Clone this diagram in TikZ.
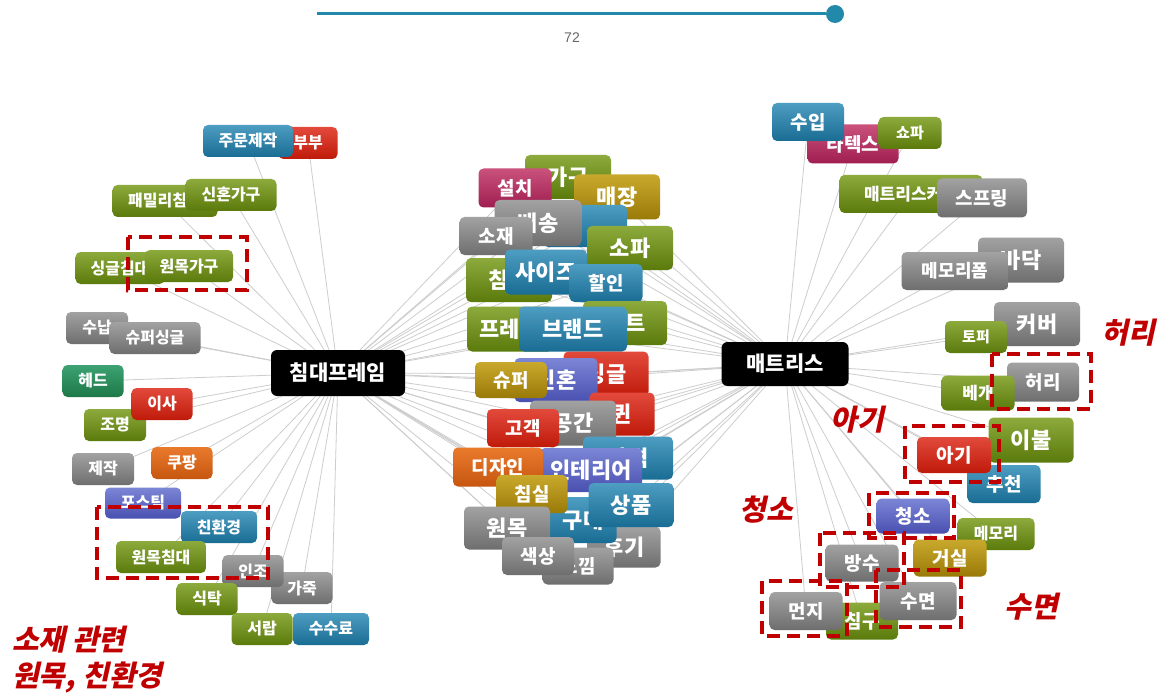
\documentclass[tikz,border=0pt]{standalone}
\usepackage{fontspec}
\setmainfont{Liberation Sans}
\newfontfamily\kr{Noto Sans CJK KR}
\newfontfamily\krit{Noto Sans CJK KR}[FakeSlant=0.22, BoldFeatures={FakeSlant=0.22}]
\usetikzlibrary{backgrounds}
\definecolor{grnT}{HTML}{8DAA3C}\definecolor{grnB}{HTML}{5B7A0C}
\definecolor{bluT}{HTML}{4E9DC2}\definecolor{bluB}{HTML}{196C93}
\definecolor{gryT}{HTML}{A2A2A2}\definecolor{gryB}{HTML}{6E6E6E}
\definecolor{redT}{HTML}{E24A3C}\definecolor{redB}{HTML}{BF1A0A}
\definecolor{orgT}{HTML}{E97A2C}\definecolor{orgB}{HTML}{C65610}
\definecolor{purT}{HTML}{7C86D6}\definecolor{purB}{HTML}{4950B0}
\definecolor{gldT}{HTML}{C9A92C}\definecolor{gldB}{HTML}{9A7A08}
\definecolor{pnkT}{HTML}{CA527C}\definecolor{pnkB}{HTML}{9F1E50}
\definecolor{telT}{HTML}{3DA273}\definecolor{telB}{HTML}{1D7847}
\definecolor{edgec}{HTML}{CDCDCD}
\definecolor{annc}{HTML}{C00000}
\definecolor{slid}{HTML}{2389AA}
\tikzset{
  tg/.style={rounded corners=5pt, inner sep=0pt, text=white, font=\kr\bfseries\fontsize{#1}{#1}\selectfont},
  cgreen/.style={top color=grnT, bottom color=grnB},
  cblue/.style={top color=bluT, bottom color=bluB},
  cgray/.style={top color=gryT, bottom color=gryB},
  cred/.style={top color=redT, bottom color=redB},
  corange/.style={top color=orgT, bottom color=orgB},
  cpurple/.style={top color=purT, bottom color=purB},
  cgold/.style={top color=gldT, bottom color=gldB},
  cpink/.style={top color=pnkT, bottom color=pnkB},
  cteal/.style={top color=telT, bottom color=telB},
  hubstyle/.style={rounded corners=6pt, fill=black, text=white, inner sep=0pt, font=\kr\bfseries\fontsize{21}{21}\selectfont},
  edge/.style={draw=edgec, line width=0.8pt},
  dbox/.style={draw=annc, line width=4.5pt, dash pattern=on 13pt off 7pt},
  ann/.style={text=annc, font=\krit\bfseries\fontsize{29}{29}\selectfont, inner sep=0pt},
}
\newcommand{\tn}[8]{\node[tg=#7, #6, minimum width=#4pt, minimum height=#5pt] (#1) at (#2,#3) {#8};}
\begin{document}
\begin{tikzpicture}[x=1pt, y=-1pt]
\useasboundingbox (0,0) rectangle (1159,695);
% slider
\coordinate (s0) at (317,14);
\node[circle, fill=slid, minimum size=18pt, inner sep=0pt] (knob) at (835,14) {};
\draw[slid, line width=3pt] (s0) -- (knob.west);
\node[text=gray!80!black, font=\fontsize{14}{14}\selectfont] (val) at (572,38) {72};
% hubs
\node[hubstyle, minimum width=134pt, minimum height=46pt] (hubL) at (338,373) {침대프레임};
\node[hubstyle, minimum width=127pt, minimum height=44pt] (hubR) at (785,364) {매트리스};
% left nodes
\tn{L1}{308}{143}{59}{32}{cred}{16}{부부}
\tn{L2}{248}{141}{90}{32}{cblue}{16}{주문제작}
\tn{L3}{165}{201}{105}{32}{cgreen}{16}{패밀리침대}
\tn{L4}{231}{195}{91}{32}{cgreen}{16}{신혼가구}
\tn{L5}{120}{268}{89}{32}{cgreen}{16}{싱글침대}
\tn{L6}{189}{266}{88}{32}{cgreen}{16}{원목가구}
\tn{L7}{97}{328}{62}{32}{cgray}{16}{수납}
\tn{L8}{155}{338}{91}{32}{cgray}{16}{슈퍼싱글}
\tn{L9}{93}{381}{61}{32}{cteal}{16}{헤드}
\tn{L10}{115}{425}{62}{32}{cgreen}{16}{조명}
\tn{L11}{162}{404}{61}{32}{cred}{16}{이사}
\tn{L12}{103}{469}{62}{32}{cgray}{16}{제작}
\tn{L13}{182}{463}{61}{32}{corange}{16}{쿠팡}
\tn{L14}{143}{503}{76}{31}{cpurple}{16}{포스틱}
\tn{L15}{219}{527}{76}{32}{cblue}{16}{친환경}
\tn{L16}{161}{557}{90}{32}{cgreen}{16}{원목침대}
\tn{L18}{302}{588}{61}{32}{cgray}{16}{가죽}
\tn{L17}{253}{571}{61}{32}{cgray}{16}{인조}
\tn{L19}{207}{599}{61}{32}{cgreen}{16}{식탁}
\tn{L20}{262}{629}{61}{32}{cgreen}{16}{서랍}
\tn{L21}{331}{629}{76}{32}{cblue}{16}{수수료}
% right nodes
\tn{R1}{853}{144}{91}{39}{cpink}{19}{라텍스}
\tn{R2}{808}{122}{72}{38}{cblue}{19}{수입}
\tn{R3}{910}{133}{63}{32}{cgreen}{15}{쇼파}
\tn{R4}{911}{194}{143}{38}{cgreen}{17}{매트리스커버}
\tn{R5}{982}{198}{90}{39}{cgray}{19}{스프링}
\tn{R6}{1021}{260}{86}{45}{cgray}{22}{바닥}
\tn{R7}{955}{271}{107}{38}{cgray}{18}{메모리폼}
\tn{R8}{1037}{324}{86}{44}{cgray}{22}{커버}
\tn{R9}{976}{337}{62}{32}{cgreen}{15}{토퍼}
\tn{R10}{1043}{382}{72}{39}{cgray}{19}{허리}
\tn{R11}{978}{393}{73}{35}{cgreen}{17}{베개}
\tn{R13}{1004}{484}{73}{38}{cblue}{19}{추천}
\tn{R12}{1031}{440}{85}{45}{cgreen}{22}{이불}
\tn{R14}{954}{455}{74}{36}{cred}{19}{아기}
\tn{R16}{996}{534}{77}{32}{cgreen}{16}{메모리}
\tn{R17}{950}{558}{73}{37}{cgold}{19}{거실}
\tn{R15}{913}{516}{73}{35}{cpurple}{19}{청소}
\tn{R19}{862}{621}{72}{37}{cgreen}{19}{침구}
\tn{R18}{862}{563}{73}{37}{cgray}{19}{방수}
\tn{R20}{918}{601}{77}{38}{cgray}{19}{수면}
\tn{R21}{806}{611}{73}{38}{cgray}{19}{먼지}
% center nodes
\tn{C1}{568}{177}{86}{44}{cgreen}{22}{가구}
\tn{C2}{515}{188}{73}{39}{cpink}{19}{설치}
\tn{C3}{617}{197}{86}{45}{cgold}{22}{매장}
\tn{C4}{585}{226}{84}{42}{cblue}{22}{}
\tn{C5}{538}{223}{87}{46}{cgray}{22}{배송}
\tn{C6}{496}{236}{73}{38}{cgray}{19}{소재}
\tn{C7}{630}{248}{86}{44}{cgreen}{22}{소파}
\tn{C8}{509}{280}{86}{44}{cgreen}{22}{침대}
\tn{C9}{546}{272}{82}{45}{cblue}{22}{사이즈}
\tn{C10}{606}{283}{73}{38}{cblue}{19}{할인}
\tn{C11}{510}{329}{86}{45}{cgreen}{22}{프레임}
\tn{C12}{625}{323}{84}{44}{cgreen}{22}{세트}
\tn{C13}{573}{329}{108}{45}{cblue}{22}{브랜드}
\tn{C14}{606}{374}{85}{45}{cred}{22}{싱글}
\tn{C15}{556}{380}{83}{44}{cpurple}{22}{신혼}
\tn{C16}{511}{380}{72}{36}{cgold}{19}{슈퍼}
\tn{C17}{622}{414}{65}{43}{cred}{22}{퀸}
\tn{C18}{573}{423}{86}{45}{cgray}{22}{공간}
\tn{C19}{523}{428}{72}{38}{cred}{19}{고객}
\tn{C20}{628}{458}{90}{43}{cblue}{22}{가격}
\tn{C21}{591}{470}{102}{44}{cpurple}{22}{인테리어}
\tn{C22}{498}{467}{90}{39}{corange}{19}{디자인}
\tn{C25}{624}{547}{73}{41}{cgray}{22}{후기}
\tn{C26}{583}{520}{67}{46}{cblue}{22}{구매}
\tn{C23}{532}{494}{71}{38}{cgold}{19}{침실}
\tn{C27}{631}{505}{85}{44}{cblue}{22}{상품}
\tn{C24}{507}{528}{86}{43}{cgray}{22}{원목}
\tn{C28}{578}{566}{71}{37}{cgray}{19}{느낌}
\tn{C29}{538}{556}{72}{38}{cgray}{19}{색상}
% edges
\begin{scope}[on background layer]
\fill[white] (0,0) rectangle (1159,695);
\foreach \n in {L1,L2,L3,L4,L5,L6,L7,L8,L9,L10,L11,L12,L13,L14,L15,L16,L17,L18,L19,L20,L21}
  \draw[edge] (hubL.center) -- (\n.center);
\foreach \n in {R1,R2,R3,R4,R5,R6,R7,R8,R9,R10,R11,R12,R13,R14,R15,R16,R17,R18,R19,R20,R21}
  \draw[edge] (hubR.center) -- (\n.center);
\foreach \n in {C1,C2,C3,C4,C5,C6,C7,C8,C9,C10,C11,C12,C13,C14,C15,C16,C17,C18,C19,C20,C21,C22,C23,C24,C25,C26,C27,C28,C29}
  {\draw[edge] (hubL.center) -- (\n.center);
   \draw[edge] (hubR.center) -- (\n.center);}
\end{scope}
% dashed highlight boxes
\draw[dbox] (128,237) rectangle (247,290);
\draw[dbox] (97,507) rectangle (268,578);
\draw[dbox] (992,354) rectangle (1091,409);
\draw[dbox] (905,426) rectangle (999,482);
\draw[dbox] (869,493) rectangle (954,538);
\draw[dbox] (820,533) rectangle (904,587);
\draw[dbox] (876,570) rectangle (961,627);
\draw[dbox] (762,581) rectangle (847,636);
% annotations
\node[ann] (a1) at (1128,333) {허리};
\node[ann] (a2) at (857,420) {아기};
\node[ann] (a3) at (766,510) {청소};
\node[ann] (a4) at (1031,607) {수면};
\node[ann, anchor=west] (a5) at (12,640) {소재 관련};
\node[ann, anchor=west] (a6) at (12,677) {원목, 친환경};
\end{tikzpicture}
\end{document}
